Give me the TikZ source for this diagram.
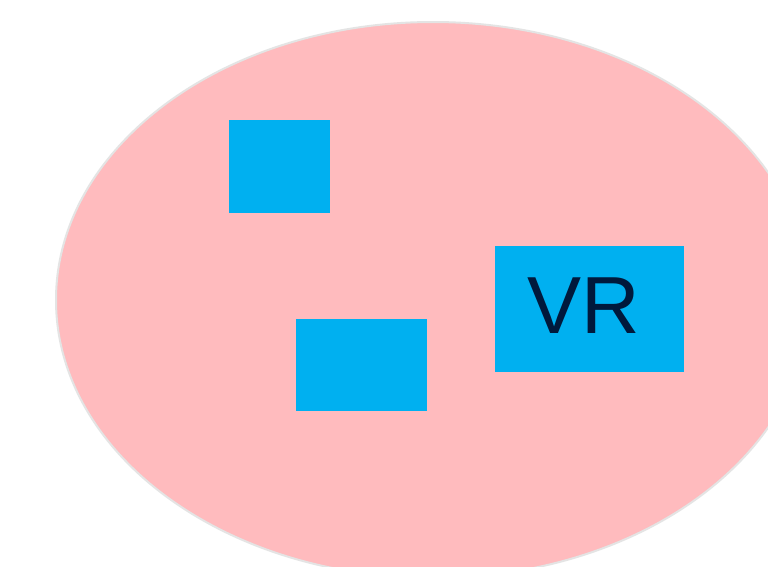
\documentclass[tikz,border=0pt]{standalone}
\usetikzlibrary{shapes.geometric}
\usepackage{fontspec}
\setmainfont{Liberation Sans}
\definecolor{pinkfill}{RGB}{255,187,190}
\definecolor{blockblue}{RGB}{0,176,240}
\definecolor{edgegray}{RGB}{228,228,228}
\definecolor{textnavy}{RGB}{0,25,60}
\begin{document}
\begin{tikzpicture}[x=1pt,y=-1pt,
  blob/.style={ellipse,fill=pinkfill,draw=edgegray,line width=2pt,inner sep=0pt},
  block/.style={fill=blockblue,draw=none,inner sep=0pt,anchor=north west},
  vrlabel/.style={text=textnavy,font=\fontsize{81}{81}\selectfont,inner sep=0pt,anchor=base}]
\useasboundingbox (0,0) rectangle (768,566);
\clip (0,0) rectangle (768,566);
\fill[white] (0,0) rectangle (768,566);
\node[blob,minimum width=754pt,minimum height=556pt] (area) at (433,300) {};
\node[block,minimum width=101pt,minimum height=93pt] (sq) at (229,120) {};
\node[block,minimum width=131pt,minimum height=92pt] (rect) at (296,319) {};
\node[block,minimum width=189pt,minimum height=126pt] (vr) at (495,246) {};
\node[vrlabel] (vrtext) at (584,333) {VR};
\end{tikzpicture}
\end{document}
